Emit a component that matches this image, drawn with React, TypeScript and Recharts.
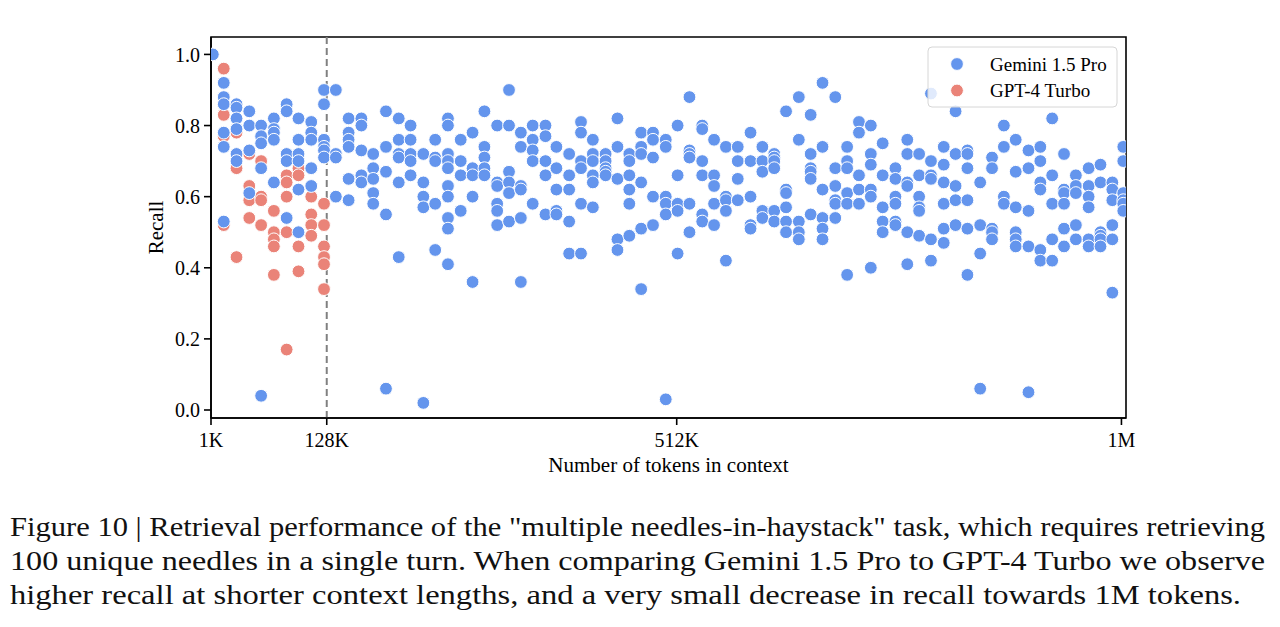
import React from 'react';
import { ScatterChart, Scatter, XAxis, YAxis, ReferenceLine, ReferenceArea } from 'recharts';

const SERIF = '"Liberation Serif", "Times New Roman", serif';

const SERIES_NAMES = ['Gemini 1.5 Pro', 'GPT-4 Turbo'];
const SERIES_COLORS = ['#6495ed', '#ea8378'];

// context length in K tokens, one entry per column of needles
const GEMINI_CONTEXT_K = [
  3, 15, 29, 43, 56, 70, 84, 97, 111, 125,
  138, 152, 166, 179, 193, 207, 220, 234, 247, 261,
  275, 288, 301, 315, 328, 341, 354, 368, 380, 394,
  407, 420, 434, 447, 460, 473, 486, 500, 513, 526,
  540, 553, 566, 579, 593, 606, 619, 632, 646, 659,
  672, 686, 699, 712, 725, 738, 752, 765, 778, 791,
  805, 818, 831, 845, 858, 871, 884, 898, 911, 924,
  937, 950, 964, 977, 990, 1002,
];

const GEMINI_RECALL = [
  [1.0],
  [0.92, 0.88, 0.86, 0.78, 0.74, 0.53],
  [0.86, 0.85, 0.82, 0.79, 0.72, 0.7],
  [0.84, 0.8, 0.73, 0.61],
  [0.8, 0.77, 0.75, 0.68, 0.04],
  [0.82, 0.79, 0.78, 0.76, 0.64],
  [0.86, 0.84, 0.72, 0.7, 0.54],
  [0.82, 0.76, 0.72, 0.7, 0.62, 0.5],
  [0.81, 0.78, 0.76, 0.68, 0.63],
  [0.9, 0.86, 0.76, 0.74, 0.73, 0.71],
  [0.9, 0.72, 0.71, 0.6],
  [0.82, 0.78, 0.76, 0.74, 0.65, 0.59],
  [0.82, 0.8, 0.73, 0.66, 0.64],
  [0.72, 0.68, 0.65, 0.61, 0.58],
  [0.84, 0.74, 0.67, 0.55, 0.06],
  [0.82, 0.76, 0.72, 0.71, 0.64, 0.43],
  [0.8, 0.76, 0.72, 0.7, 0.66],
  [0.72, 0.64, 0.6, 0.57, 0.02],
  [0.76, 0.71, 0.7, 0.58, 0.45],
  [0.82, 0.8, 0.72, 0.7, 0.68, 0.63, 0.6, 0.54, 0.51, 0.41],
  [0.76, 0.7, 0.66, 0.56],
  [0.78, 0.68, 0.66, 0.6, 0.36],
  [0.84, 0.74, 0.71, 0.68, 0.66],
  [0.8, 0.64, 0.63, 0.58, 0.56, 0.52],
  [0.9, 0.8, 0.67, 0.64, 0.61, 0.53],
  [0.78, 0.74, 0.63, 0.62, 0.54, 0.36],
  [0.8, 0.76, 0.73, 0.7, 0.58],
  [0.8, 0.77, 0.7, 0.66, 0.55],
  [0.74, 0.68, 0.62, 0.56, 0.55],
  [0.72, 0.66, 0.62, 0.53, 0.44],
  [0.81, 0.78, 0.7, 0.68, 0.58, 0.44],
  [0.76, 0.72, 0.7, 0.66, 0.64, 0.57],
  [0.72, 0.7, 0.68, 0.67, 0.66],
  [0.82, 0.74, 0.65, 0.48, 0.45],
  [0.72, 0.7, 0.66, 0.62, 0.58, 0.49],
  [0.78, 0.74, 0.72, 0.64, 0.51, 0.34],
  [0.78, 0.76, 0.71, 0.6, 0.52],
  [0.76, 0.74, 0.6, 0.58, 0.55, 0.03],
  [0.8, 0.66, 0.58, 0.56, 0.44],
  [0.88, 0.73, 0.72, 0.71, 0.58, 0.5],
  [0.8, 0.79, 0.7, 0.66, 0.55, 0.53],
  [0.76, 0.66, 0.63, 0.58, 0.52],
  [0.74, 0.6, 0.59, 0.56, 0.42],
  [0.74, 0.7, 0.65, 0.59],
  [0.78, 0.7, 0.6, 0.52, 0.51],
  [0.74, 0.7, 0.67, 0.56, 0.54],
  [0.72, 0.71, 0.7, 0.68, 0.56, 0.53],
  [0.84, 0.62, 0.61, 0.57, 0.53, 0.5],
  [0.88, 0.76, 0.53, 0.5, 0.48],
  [0.83, 0.72, 0.68, 0.67, 0.65, 0.55],
  [0.92, 0.74, 0.62, 0.54, 0.51, 0.48],
  [0.88, 0.68, 0.63, 0.59, 0.58, 0.54],
  [0.74, 0.7, 0.68, 0.61, 0.58, 0.38],
  [0.81, 0.78, 0.66, 0.62, 0.58],
  [0.8, 0.72, 0.69, 0.62, 0.6, 0.4],
  [0.75, 0.66, 0.57, 0.53, 0.5],
  [0.68, 0.65, 0.6, 0.58, 0.53, 0.52],
  [0.76, 0.72, 0.64, 0.63, 0.5, 0.41],
  [0.72, 0.66, 0.6, 0.57, 0.56, 0.49],
  [0.89, 0.7, 0.66, 0.65, 0.48, 0.42],
  [0.74, 0.69, 0.64, 0.58, 0.51, 0.47],
  [0.84, 0.72, 0.63, 0.59, 0.52],
  [0.73, 0.72, 0.68, 0.59, 0.51, 0.38],
  [0.64, 0.52, 0.44, 0.06],
  [0.71, 0.68, 0.51, 0.5, 0.48],
  [0.8, 0.74, 0.6, 0.58],
  [0.76, 0.67, 0.57, 0.5, 0.48, 0.46],
  [0.73, 0.68, 0.56, 0.46, 0.05],
  [0.74, 0.7, 0.64, 0.62, 0.45, 0.42],
  [0.82, 0.66, 0.58, 0.48, 0.42],
  [0.72, 0.62, 0.61, 0.58, 0.51, 0.46],
  [0.66, 0.63, 0.61, 0.52, 0.48],
  [0.68, 0.63, 0.6, 0.57, 0.48, 0.46],
  [0.69, 0.64, 0.5, 0.49, 0.48, 0.46],
  [0.64, 0.62, 0.59, 0.52, 0.48, 0.33],
  [0.74, 0.7, 0.61, 0.59, 0.58, 0.56],
];

const GPT_CONTEXT_K = [15, 29, 43, 56, 70, 84, 97, 111, 125];

const GPT_RECALL = [
  [0.96, 0.83, 0.77, 0.52],
  [0.78, 0.68, 0.43],
  [0.72, 0.63, 0.59, 0.54],
  [0.7, 0.6, 0.59, 0.52],
  [0.56, 0.5, 0.48, 0.46, 0.38],
  [0.66, 0.64, 0.6, 0.5, 0.17],
  [0.68, 0.66, 0.46, 0.39],
  [0.6, 0.55, 0.52, 0.49],
  [0.58, 0.52, 0.46, 0.43, 0.41, 0.34],
];

const X_TICKS = [1, 128, 512, 1000];
const X_TICK_LABELS = ['1K', '128K', '512K', '1M'];
const Y_TICKS = [0, 0.2, 0.4, 0.6, 0.8, 1.0];
const CUTOFF_K = 128;

const X_DOMAIN: [number, number] = [1, 1005];
const Y_DOMAIN: [number, number] = [-0.0225, 1.049];

const CAPTION = [
  'Figure 10 | Retrieval performance of the "multiple needles-in-haystack" task, which requires retrieving',
  '100 unique needles in a single turn. When comparing Gemini 1.5 Pro to GPT-4 Turbo we observe',
  'higher recall at shorter context lengths, and a very small decrease in recall towards 1M tokens.',
];

const toPoints = (ctx: number[], recall: number[][]) =>
  ctx.flatMap((x, i) => recall[i].map((y) => ({ x, y })));

const geminiPoints = toPoints(GEMINI_CONTEXT_K, GEMINI_RECALL);
const gptPoints = toPoints(GPT_CONTEXT_K, GPT_RECALL);

const makeDot = (color: string) => (props: any) => (
  <circle cx={props.cx} cy={props.cy} r={6.4} fill={color} stroke="#fff" strokeWidth={1} />
);

const tickStyle = { fill: '#000', fontSize: 20, fontFamily: SERIF };

export default function App() {
  return (
    <div style={{ position: 'absolute', left: 0, top: 0, width: 1280, height: 627, background: '#fff', overflow: 'hidden' }}>
      <ScatterChart width={1280} height={480} margin={{ top: 37, right: 154, bottom: 22, left: 151 }}>
        <XAxis
          type="number"
          dataKey="x"
          domain={X_DOMAIN}
          allowDataOverflow
          ticks={X_TICKS}
          interval={0}
          tickFormatter={(v: number) => X_TICK_LABELS[X_TICKS.indexOf(v)]}
          height={40}
          tickSize={7}
          tickMargin={8}
          axisLine={{ stroke: '#000', strokeWidth: 1.6 }}
          tickLine={{ stroke: '#000', strokeWidth: 1.6 }}
          tick={tickStyle}
        />
        <YAxis
          type="number"
          dataKey="y"
          domain={Y_DOMAIN}
          allowDataOverflow
          ticks={Y_TICKS}
          interval={0}
          tickFormatter={(v: number) => v.toFixed(1)}
          width={60}
          tickSize={7}
          tickMargin={4}
          axisLine={{ stroke: '#000', strokeWidth: 1.6 }}
          tickLine={{ stroke: '#000', strokeWidth: 1.6 }}
          tick={tickStyle}
        />
        <Scatter name={SERIES_NAMES[1]} data={gptPoints} shape={makeDot(SERIES_COLORS[1])} isAnimationActive={false} />
        <Scatter name={SERIES_NAMES[0]} data={geminiPoints} shape={makeDot(SERIES_COLORS[0])} isAnimationActive={false} />
        <ReferenceLine x={CUTOFF_K} stroke="#808080" strokeWidth={2} strokeDasharray="7 4" />
        <ReferenceArea
          x1={X_DOMAIN[0]}
          x2={X_DOMAIN[1]}
          y1={Y_DOMAIN[0]}
          y2={Y_DOMAIN[1]}
          fill="none"
          fillOpacity={0}
          stroke="#000"
          strokeWidth={1.6}
          ifOverflow="visible"
        />
      </ScatterChart>
      <svg width={1280} height={627} style={{ position: 'absolute', left: 0, top: 0, pointerEvents: 'none' }}>
        {/* legend */}
        <rect x={928} y={47} width={189} height={60} rx={4} fill="#fff" fillOpacity={0.8} stroke="#d6d6d6" strokeWidth={1} />
        {SERIES_NAMES.map((name, i) => (
          <g key={name}>
            <circle cx={957} cy={64 + i * 26.5} r={6.4} fill={SERIES_COLORS[i]} stroke="#fff" strokeWidth={1} />
            <text x={990} y={64 + i * 26.5} dy="0.35em" fontSize={19} fontFamily={SERIF} fill="#000">
              {name}
            </text>
          </g>
        ))}
        {/* axis titles */}
        <text x={668.5} y={472} textAnchor="middle" fontSize={21} fontFamily={SERIF} fill="#000">
          Number of tokens in context
        </text>
        <text x={163} y={227.5} textAnchor="middle" fontSize={21} fontFamily={SERIF} fill="#000" transform="rotate(-90, 163, 227.5)">
          Recall
        </text>
        {/* caption */}
        {CAPTION.map((line, i) => (
          <text
            key={i}
            x={10}
            y={536 + i * 34}
            fontSize={27}
            fontFamily={SERIF}
            fill="#111"
            textLength={i === 2 ? 1231 : 1255}
            lengthAdjust="spacingAndGlyphs"
          >
            {line}
          </text>
        ))}
      </svg>
    </div>
  );
}
